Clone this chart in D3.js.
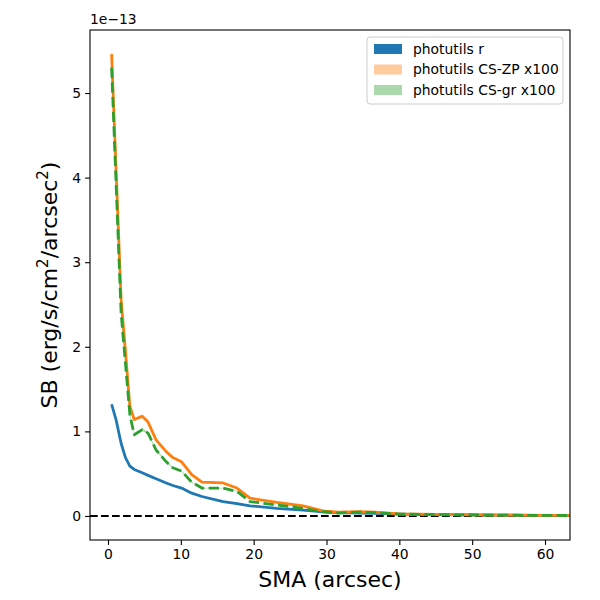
<!DOCTYPE html>
<html>
<head>
<meta charset="utf-8">
<script src="https://cdn.jsdelivr.net/npm/d3@7"></script>
<style>
  body { margin: 0; background: #fff; }
  text { font-family: "DejaVu Sans", sans-serif; }
</style>
</head>
<body>
<div class="chart"></div>
<script>
// SMA (arcsec) and surface brightness in units of 1e-13
const sma = [0.5, 1.1, 1.8, 2.4, 3.0, 3.6, 4.7, 5.5, 6.6, 8.0, 8.9, 10.1, 11.5, 12.9, 15.8, 17.7, 19.5, 23.2, 26.8, 29.5, 31.6, 34.5, 36.7, 40, 45, 50, 55, 60, 65];
const sbR = [1.32, 1.14, 0.86, 0.69, 0.59, 0.55, 0.51, 0.48, 0.44, 0.39, 0.36, 0.33, 0.27, 0.23, 0.17, 0.145, 0.12, 0.09, 0.07, 0.05, 0.04, 0.035, 0.03, 0.022, 0.016, 0.012, 0.009, 0.007, 0.005];
const sbZP = [5.46, 4.12, 2.56, 1.95, 1.30, 1.14, 1.18, 1.11, 0.90, 0.76, 0.69, 0.64, 0.49, 0.40, 0.39, 0.33, 0.21, 0.16, 0.12, 0.06, 0.045, 0.05, 0.045, 0.025, 0.018, 0.014, 0.01, 0.008, 0.006];
const sbGR = [5.30, 3.95, 2.40, 1.80, 1.20, 0.96, 1.02, 0.98, 0.78, 0.64, 0.57, 0.53, 0.40, 0.33, 0.33, 0.29, 0.17, 0.13, 0.09, 0.05, 0.035, 0.045, 0.04, 0.022, 0.016, 0.012, 0.009, 0.007, 0.005];
const xTicks = [0, 10, 20, 30, 40, 50, 60];
const yTicks = [0, 1, 2, 3, 4, 5];

const series = [
  { name: 'photutils r', values: sbR, color: '#1f77b4', band: '#1f77b4', bandOpacity: 1, err: 0.01, dash: null },
  { name: 'photutils CS-ZP x100', values: sbZP, color: '#ff7f0e', band: '#ff7f0e', bandOpacity: 0.4, err: 0.015, dash: null },
  { name: 'photutils CS-gr x100', values: sbGR, color: '#2ca02c', band: '#2ca02c', bandOpacity: 0.4, err: 0.015, dash: '10.3,4.4' }
];

const width = 600, height = 600;
const margin = { top: 30, right: 30, bottom: 60, left: 90 };
const w = width - margin.left - margin.right;
const h = height - margin.top - margin.bottom;

const svg = d3.select('.chart').append('svg')
  .attr('width', width).attr('height', height);
const g = svg.append('g').attr('transform', `translate(${margin.left},${margin.top})`);

const x = d3.scaleLinear().domain([-2.47, 63.43]).range([0, w]);
const y = d3.scaleLinear().domain([-0.284, 5.745]).range([h, 0]);

g.append('clipPath').attr('id', 'clip').append('rect').attr('width', w).attr('height', h);
const plot = g.append('g').attr('clip-path', 'url(#clip)');

// zero line
plot.append('line')
  .attr('x1', 0).attr('x2', w).attr('y1', y(0)).attr('y2', y(0))
  .style('stroke', '#000').style('stroke-width', 2.08).style('stroke-dasharray', '7.7,3.3');

const area = d3.area().x(d => x(d.x)).y0(d => y(d.lo)).y1(d => y(d.hi));
const line = d3.line().x(d => x(d.x)).y(d => y(d.v));

series.forEach(s => {
  const pts = sma.map((xx, i) => ({ x: xx, v: s.values[i], lo: s.values[i] * (1 - s.err), hi: s.values[i] * (1 + s.err) }));
  plot.append('path').attr('d', area(pts))
    .style('fill', s.band).style('opacity', s.bandOpacity);
  plot.append('path').attr('d', line(pts))
    .style('fill', 'none').style('stroke', s.color).style('stroke-width', 2.78)
    .style('stroke-linejoin', 'round')
    .style('stroke-dasharray', s.dash);
});

// axes
const xAxis = d3.axisBottom(x).tickValues(xTicks).tickSizeOuter(0).tickSize(4.9).tickPadding(4);
const yAxis = d3.axisLeft(y).tickValues(yTicks).tickFormat(d3.format('d')).tickSizeOuter(0).tickSize(4.9).tickPadding(4);
const gx = g.append('g').attr('transform', `translate(0,${h})`).call(xAxis);
const gy = g.append('g').call(yAxis);
[gx, gy].forEach(a => {
  a.select('.domain').remove();
  a.selectAll('.tick line').style('stroke', '#000').style('stroke-width', 1.1);
  a.selectAll('.tick text').style('font-size', '13.9px').style('fill', '#000')
    .style('font-family', '"DejaVu Sans", sans-serif');
});

g.append('rect').attr('width', w).attr('height', h)
  .style('fill', 'none').style('stroke', '#000').style('stroke-width', 1.1);

// offset text
g.append('text').attr('x', 0).attr('y', -6).text('1e\u221213').style('font-size', '13.9px');

// labels
g.append('text').attr('x', w / 2).attr('y', h + 47).attr('text-anchor', 'middle')
  .style('font-size', '22px').text('SMA (arcsec)');
const yl = g.append('text').attr('transform', `translate(-33,${h / 2}) rotate(-90)`)
  .attr('text-anchor', 'middle').style('font-size', '22px');
yl.append('tspan').text('SB (erg/s/cm');
yl.append('tspan').attr('dy', -9).style('font-size', '15px').text('2');
yl.append('tspan').attr('dy', 9).text('/arcsec');
yl.append('tspan').attr('dy', -9).style('font-size', '15px').text('2');
yl.append('tspan').attr('dy', 9).text(')');

// legend
const lg = g.append('g').attr('transform', `translate(${w - 203},7)`);
lg.append('rect').attr('width', 196).attr('height', 67).attr('rx', 3)
  .style('fill', '#fff').style('fill-opacity', 0.8).style('stroke', '#ccc');
series.forEach((s, i) => {
  const row = lg.append('g').attr('transform', `translate(7,${12 + i * 20.5})`);
  row.append('rect').attr('width', 28).attr('height', 10).attr('y', -5)
    .style('fill', s.band).style('opacity', s.bandOpacity);
  row.append('text').attr('x', 39).attr('dy', '0.35em').style('font-size', '13.9px').text(s.name);
});
</script>
</body>
</html>
